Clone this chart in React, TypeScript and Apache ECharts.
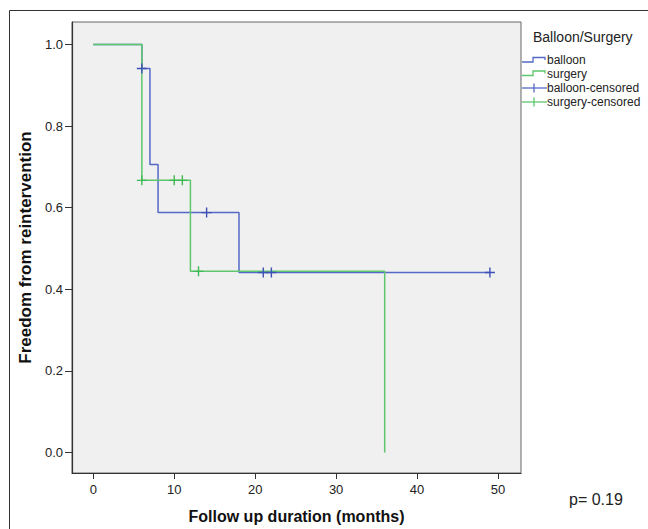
import React, { useEffect, useRef } from "react";
import * as echarts from "echarts";

// Kaplan-Meier step points (time in months, survival proportion)
const balloonTimes = [0, 6, 7, 8, 18, 49];
const balloonSurv = [1.0, 0.941, 0.706, 0.588, 0.441, 0.441];
const surgeryTimes = [0, 6, 12, 36];
const surgerySurv = [1.0, 0.667, 0.444, 0.0];

// Censored observations
const balloonCensTimes = [6, 14, 21, 22, 49];
const balloonCensSurv = [0.941, 0.588, 0.441, 0.441, 0.441];
const surgeryCensTimes = [6, 10, 11, 13];
const surgeryCensSurv = [0.667, 0.667, 0.667, 0.444];

const xTicks = [0, 10, 20, 30, 40, 50];
const yTicks = [0, 0.2, 0.4, 0.6, 0.8, 1.0];

const legendTitle = "Balloon/Surgery";
const legendNames = ["balloon", "surgery", "balloon-censored", "surgery-censored"];
const xName = "Follow up duration (months)";
const yName = "Freedom from reintervention";
const pText = "p= 0.19";

const BLUE = "#5469c6";
const GREEN = "#5ec66c";
const BLUE_D = "#3c52b6";
const GREEN_D = "#3fba52";
const FONT = 'Arial, "Liberation Sans", Helvetica, sans-serif';
const PLUS = "path://M4.3,0h1.4v10h-1.4z M0,4.3h10v1.4h-10z";

export default function App() {
  const ref = useRef<HTMLDivElement>(null);
  useEffect(() => {
    if (!ref.current) return;
    const chart = echarts.init(ref.current, null, { renderer: "svg" });
    const zip = (a: number[], b: number[]) => a.map((v, i) => [v, b[i]]);
    const rows = [60, 73.5, 88, 102];
    chart.setOption({
      animation: false,
      backgroundColor: "#ffffff",
      textStyle: { fontFamily: FONT },
      grid: {
        left: 72,
        top: 22,
        width: 449,
        height: 451,
        show: true,
        backgroundColor: "#f0f0f0",
        borderColor: "#666",
        borderWidth: 1,
        containLabel: false,
        outerBoundsMode: "none",
      },
      xAxis: {
        type: "value",
        min: -2.63,
        max: 52.84,
        name: xName,
        nameLocation: "middle",
        nameGap: 35,
        nameTextStyle: { fontSize: 16, fontWeight: "bold", color: "#111", fontFamily: FONT },
        axisLine: { show: true, onZero: false, lineStyle: { color: "#333", width: 1.2 } },
        axisTick: { show: true, length: 6, customValues: xTicks, lineStyle: { color: "#333" } },
        axisLabel: {
          customValues: xTicks,
          fontSize: 13,
          color: "#222",
          margin: 10,
          fontFamily: FONT,
        },
        splitLine: { show: false },
      },
      yAxis: {
        type: "value",
        min: -0.0502,
        max: 1.0551,
        name: yName,
        nameLocation: "middle",
        nameGap: 37,
        nameRotate: 90,
        nameTextStyle: { fontSize: 17, fontWeight: "bold", color: "#111", fontFamily: FONT },
        axisLine: { show: true, onZero: false, lineStyle: { color: "#333", width: 1.2 } },
        axisTick: { show: true, length: 7, customValues: yTicks, lineStyle: { color: "#333" } },
        axisLabel: {
          customValues: yTicks,
          fontSize: 13,
          color: "#222",
          margin: 9,
          fontFamily: FONT,
          formatter: (v: number) => v.toFixed(1),
        },
        splitLine: { show: false },
      },
      series: [
        {
          name: legendNames[0],
          type: "line",
          step: "end",
          data: zip(balloonTimes, balloonSurv),
          showSymbol: false,
          symbol: "none",
          lineStyle: { color: BLUE, width: 1.5 },
          z: 2,
        },
        {
          name: legendNames[1],
          type: "line",
          step: "end",
          data: zip(surgeryTimes, surgerySurv),
          showSymbol: false,
          symbol: "none",
          lineStyle: { color: GREEN, width: 1.5 },
          z: 3,
        },
        {
          name: legendNames[2],
          type: "scatter",
          data: zip(balloonCensTimes, balloonCensSurv),
          symbol: PLUS,
          symbolSize: [10, 10],
          itemStyle: { color: BLUE_D, opacity: 1 },
          z: 5,
        },
        {
          name: legendNames[3],
          type: "scatter",
          data: zip(surgeryCensTimes, surgeryCensSurv),
          symbol: PLUS,
          symbolSize: [10, 10],
          itemStyle: { color: GREEN_D, opacity: 1 },
          z: 4,
        },
      ],
      graphic: [
        {
          type: "rect",
          silent: true,
          shape: { x: 9.5, y: 10.5, width: 700, height: 600 },
          style: { fill: "none", stroke: "#333", lineWidth: 1 },
          z: -10,
        },
        {
          type: "text",
          x: 533,
          y: 37,
          style: {
            text: legendTitle,
            font: `14px ${FONT}`,
            fill: "#222",
            verticalAlign: "middle",
          },
        },
        {
          type: "polyline",
          shape: { points: [[522, rows[0] + 2], [533, rows[0] + 2], [533, rows[0] - 2.5], [545, rows[0] - 2.5], [545, rows[0]]] },
          style: { stroke: BLUE, lineWidth: 1.3, fill: "none" },
        },
        {
          type: "polyline",
          shape: { points: [[522, rows[1] + 2], [533, rows[1] + 2], [533, rows[1] - 2.5], [545, rows[1] - 2.5], [545, rows[1]]] },
          style: { stroke: GREEN, lineWidth: 1.3, fill: "none" },
        },
        {
          type: "line",
          shape: { x1: 522, y1: rows[2], x2: 547, y2: rows[2] },
          style: { stroke: BLUE, lineWidth: 1.3 },
        },
        {
          type: "line",
          shape: { x1: 534, y1: rows[2] - 4.5, x2: 534, y2: rows[2] + 4.5 },
          style: { stroke: BLUE, lineWidth: 1.3 },
        },
        {
          type: "line",
          shape: { x1: 522, y1: rows[3], x2: 547, y2: rows[3] },
          style: { stroke: GREEN, lineWidth: 1.3 },
        },
        {
          type: "line",
          shape: { x1: 534, y1: rows[3] - 4.5, x2: 534, y2: rows[3] + 4.5 },
          style: { stroke: GREEN, lineWidth: 1.3 },
        },
        ...legendNames.map((n, i) => ({
          type: "text",
          x: 547,
          y: rows[i],
          style: {
            text: n,
            font: `12px ${FONT}`,
            fill: "#222",
            verticalAlign: "middle",
          },
        })),
        {
          type: "text",
          x: 569,
          y: 499,
          style: {
            text: pText,
            font: `16px ${FONT}`,
            fill: "#222",
            verticalAlign: "middle",
          },
        },
      ],
    });
    return () => chart.dispose();
  }, []);
  return (
    <div
      ref={ref}
      style={{ position: "fixed", left: 0, top: 0, width: 648, height: 529 }}
    />
  );
}
